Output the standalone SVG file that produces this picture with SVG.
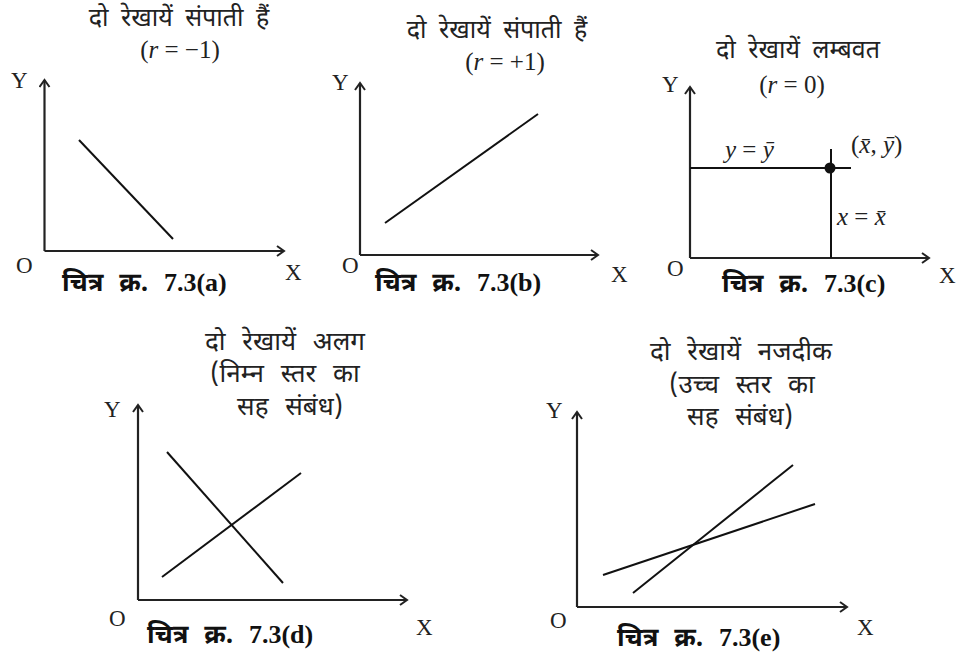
<svg xmlns="http://www.w3.org/2000/svg" width="959" height="657" viewBox="0 0 959 657">
<style>
.dv{font-family:"Noto Sans Devanagari","Lohit Devanagari","Noto Sans",sans-serif;font-size:25px;word-spacing:6px;fill:#222;text-anchor:middle}
.dv2{font-size:26px;word-spacing:10px}
.lat{font-family:"Liberation Serif",serif;font-size:23px;fill:#222}
.f{font-size:25px}
.mid{text-anchor:middle}
.cap{font-family:"Noto Sans Devanagari","Lohit Devanagari","Noto Sans",sans-serif;font-size:26px;word-spacing:9px;font-weight:bold;fill:#111}
.num{font-family:"Liberation Serif",serif;font-weight:bold}
.ax{stroke:#222;stroke-width:2.2;fill:none}
.ln{stroke:#111;stroke-width:2;fill:none}
</style>
<defs>
<marker id="arr" markerWidth="12" markerHeight="12" refX="9" refY="6" orient="auto" markerUnits="userSpaceOnUse">
<path d="M2,1 L9,6 L2,11" fill="none" stroke="#222" stroke-width="2"/>
</marker>
</defs>

<g id="panel-a">
<text class="dv" x="179" y="26">दो रेखायें संपाती हैं</text>
<text class="lat f mid" x="180" y="58">(<tspan font-style="italic">r</tspan> = −1)</text>
<text class="lat" x="11" y="88">Y</text>
<text class="lat" x="16" y="273">O</text>
<text class="lat" x="285" y="280">X</text>
<text class="cap" x="62" y="291">चित्र क्र. <tspan class="num">7.3(a)</tspan></text>
</g>

<g id="panel-b">
<text class="dv" x="497" y="38">दो रेखायें संपाती हैं</text>
<text class="lat f mid" x="505" y="70">(<tspan font-style="italic">r</tspan> = +1)</text>
<text class="lat" x="332" y="90">Y</text>
<text class="lat" x="342" y="273">O</text>
<text class="lat" x="611" y="282">X</text>
<text class="cap" x="375" y="291">चित्र क्र. <tspan class="num">7.3(b)</tspan></text>
</g>

<g id="panel-c">
<text class="dv" x="798" y="58">दो रेखायें लम्बवत</text>
<text class="lat f mid" x="792" y="93">(<tspan font-style="italic">r</tspan> = 0)</text>
<text class="lat" x="662" y="92">Y</text>
<text class="lat" x="667" y="276">O</text>
<text class="lat" x="939" y="283">X</text>
<text class="lat f" x="725" y="158"><tspan font-style="italic">y</tspan> = <tspan font-style="italic">ȳ</tspan></text>
<text class="lat f" x="851" y="153">(<tspan font-style="italic">x̄</tspan>, <tspan font-style="italic">ȳ</tspan>)</text>
<text class="lat f" x="837" y="225"><tspan font-style="italic">x</tspan> = <tspan font-style="italic">x̄</tspan></text>
<circle cx="830" cy="168" r="5.5" fill="#111"/>
<text class="cap" x="722" y="292">चित्र क्र. <tspan class="num">7.3(c)</tspan></text>
</g>

<g id="panel-d">
<text class="dv dv2" x="285" y="350">दो रेखायें अलग</text>
<text class="dv dv2" x="285" y="382">(निम्न स्तर का</text>
<text class="dv dv2" x="290" y="415">सह संबंध)</text>
<text class="lat" x="104" y="417">Y</text>
<text class="lat" x="109" y="626">O</text>
<text class="lat" x="416" y="635">X</text>
<text class="cap" x="147" y="643">चित्र क्र. <tspan class="num">7.3(d)</tspan></text>
</g>

<g id="panel-e">
<text class="dv dv2" x="741" y="360">दो रेखायें नजदीक</text>
<text class="dv dv2" x="742" y="393">(उच्च स्तर का</text>
<text class="dv dv2" x="740" y="425">सह संबंध)</text>
<text class="lat" x="546" y="418">Y</text>
<text class="lat" x="550" y="628">O</text>
<text class="lat" x="857" y="635">X</text>
<text class="cap" x="617" y="646">चित्र क्र. <tspan class="num">7.3(e)</tspan></text>
</g>

<g id="connectors">
<!-- panel a -->
<path class="ax" d="M44.5,251 V80" marker-end="url(#arr)"/>
<path class="ax" d="M44.5,251 H284" marker-end="url(#arr)"/>
<path class="ln" d="M79,140 L173,239"/>
<!-- panel b -->
<path class="ax" d="M360,255 V83" marker-end="url(#arr)"/>
<path class="ax" d="M360,255 H598" marker-end="url(#arr)"/>
<path class="ln" d="M385,223 L538,114"/>
<!-- panel c -->
<path class="ax" d="M690,258 V87" marker-end="url(#arr)"/>
<path class="ax" d="M690,258 H929" marker-end="url(#arr)"/>
<path class="ln" d="M690,168 H851"/>
<path class="ln" d="M831,149 V258"/>
<!-- panel d -->
<path class="ax" d="M138,600 V405" marker-end="url(#arr)"/>
<path class="ax" d="M138,600 H407" marker-end="url(#arr)"/>
<path class="ln" d="M167,452 L283,583"/>
<path class="ln" d="M162,577 L301,473"/>
<!-- panel e -->
<path class="ax" d="M577,607 V412" marker-end="url(#arr)"/>
<path class="ax" d="M577,607 H847" marker-end="url(#arr)"/>
<path class="ln" d="M633,593 L793,465"/>
<path class="ln" d="M603,575 L815,504"/>
</g>
</svg>
